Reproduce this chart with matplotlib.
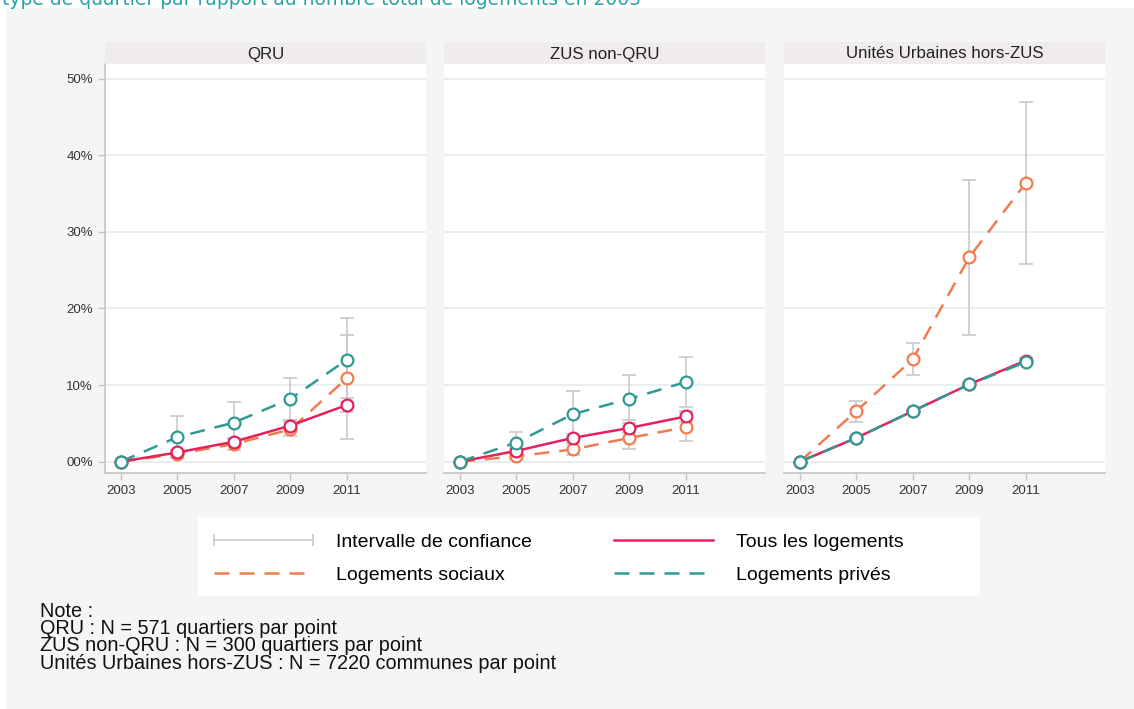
import numpy as np
import matplotlib
matplotlib.use("Agg")
import matplotlib.pyplot as plt
from matplotlib.lines import Line2D
from matplotlib.patches import Rectangle

plt.rcParams['font.family'] = ['Liberation Sans', 'DejaVu Sans']

years = [2003, 2005, 2007, 2009, 2011]
panels = ['QRU', 'ZUS non-QRU', 'Unités Urbaines hors-ZUS']

# valeurs en %
tous = [[0, 1.2, 2.6, 4.7, 7.4],
        [0, 1.4, 3.1, 4.4, 5.9],
        [0, 3.1, 6.6, 10.1, 13.2]]
sociaux = [[0, 1.0, 2.3, 4.2, 10.9],
           [0, 0.7, 1.6, 3.1, 4.5],
           [0, 6.6, 13.4, 26.7, 36.4]]
prives = [[0, 3.2, 5.1, 8.2, 13.3],
          [0, 2.5, 6.2, 8.2, 10.4],
          [0, 3.1, 6.6, 10.1, 13.0]]

# intervalles de confiance (bas, haut)
tous_lo = [[0, 0.9, 2.2, 4.2, 6.5], [0, 1.0, 2.6, 3.8, 5.2], [0, 3.0, 6.4, 9.9, 12.9]]
tous_hi = [[0, 1.5, 3.0, 5.2, 8.3], [0, 1.8, 3.6, 5.0, 6.6], [0, 3.2, 6.8, 10.3, 13.5]]
soc_lo = [[0, 0.6, 1.5, 3.4, 2.9], [0, 0.3, 0.9, 1.6, 2.7], [0, 5.2, 11.3, 16.5, 25.8]]
soc_hi = [[0, 1.4, 3.1, 5.4, 16.5], [0, 1.1, 2.3, 4.6, 6.3], [0, 7.9, 15.5, 36.8, 46.9]]
priv_lo = [[0, 0.5, 2.4, 5.4, 7.8], [0, 1.1, 3.2, 5.4, 7.1], [0, 3.0, 6.4, 9.9, 12.7]]
priv_hi = [[0, 5.9, 7.8, 10.9, 18.8], [0, 3.9, 9.2, 11.3, 13.7], [0, 3.2, 6.8, 10.3, 13.3]]

yticks = [0, 10, 20, 30, 40, 50]
ytick_labels = ['00%', '10%', '20%', '30%', '40%', '50%']

red = '#e3225c'
orange = '#f27b4f'
teal = '#2f9a92'
grey_ci = '#c9c9c9'
bg = '#f4f5f5'
dash = (6, 4)

W, H = 1134, 709
fig = plt.figure(figsize=(W / 100, H / 100), dpi=100)
fig.patch.set_facecolor('white')

def fx(x):
    return x / W

def fy(y):
    return 1 - y / H

# fond gris
fig.patches.append(Rectangle((fx(6), 0), 1 - fx(6), fy(8), transform=fig.transFigure,
                             facecolor=bg, edgecolor='none', zorder=-10))

# titre coupé en haut (comme dans l'original)
fig.text(fx(2), fy(5), 'type de quartier par rapport au nombre total de logements en 2003',
         color='#2aa3a8', fontsize=13.5, family='DejaVu Sans', va='baseline', ha='left')

lefts = [105, 444, 784]
pw = 321
top, bottom = 64, 473
strip_top = 42

def ci(vals, lo, hi):
    v = np.array(vals)
    return [v - np.array(lo), np.array(hi) - v]

for i in range(3):
    ax = fig.add_axes([fx(lefts[i]), fy(bottom), fx(pw), (bottom - top) / H])
    ax.set_facecolor('white')
    ax.set_xlim(2002.44, 2013.8)
    ax.set_ylim(-1.48, 51.9)

    for vals, lo, hi in [(prives[i], priv_lo[i], priv_hi[i]),
                         (sociaux[i], soc_lo[i], soc_hi[i]),
                         (tous[i], tous_lo[i], tous_hi[i])]:
        ax.errorbar(years, vals, yerr=ci(vals, lo, hi), fmt='none', ecolor=grey_ci,
                    elinewidth=1.2, capsize=5, capthick=1.2, zorder=2)

    ax.plot(years, sociaux[i], color=orange, lw=1.8, dashes=dash, marker='o', ms=8.5,
            mfc='white', mec=orange, mew=1.6, zorder=3)
    ax.plot(years, tous[i], color=red, lw=1.8, marker='o', ms=8.5,
            mfc='white', mec=red, mew=1.6, zorder=4)
    ax.plot(years, prives[i], color=teal, lw=1.8, dashes=dash, marker='o', ms=8.5,
            mfc='white', mec=teal, mew=1.6, zorder=5)

    ax.set_yticks(yticks)
    ax.set_xticks(years)
    ax.grid(axis='y', color='#e7eeef', lw=1.4, zorder=0)
    ax.set_axisbelow(True)
    for s in ['top', 'right']:
        ax.spines[s].set_visible(False)
    ax.spines['bottom'].set_color('#c4c4c4')
    ax.spines['bottom'].set_linewidth(1.2)
    ax.tick_params(axis='x', colors='#c4c4c4', labelcolor='#333333', labelsize=9.5, length=5, width=1)
    if i == 0:
        ax.set_yticklabels(ytick_labels)
        ax.spines['left'].set_color('#c4c4c4')
        ax.spines['left'].set_linewidth(1.2)
        ax.tick_params(axis='y', colors='#c4c4c4', labelcolor='#333333', labelsize=9.5, length=5, width=1)
    else:
        ax.spines['left'].set_visible(False)
        ax.tick_params(axis='y', left=False, labelleft=False)

    # bandeau de titre
    fig.patches.append(Rectangle((fx(lefts[i]), fy(top)), fx(pw), (top - strip_top) / H,
                                 transform=fig.transFigure, facecolor='#efeceb', edgecolor='none'))
    fig.text(fx(lefts[i] + pw / 2), fy((top + strip_top) / 2 + 1), panels[i], ha='center', va='center',
             fontsize=12.2, color='#222222')

# légende
fig.patches.append(Rectangle((fx(198), fy(596)), fx(782), 79 / H, transform=fig.transFigure,
                             facecolor='white', edgecolor='none'))
handles = [
    Line2D([], [], color=grey_ci, lw=1.2, marker='|', ms=9, mew=1.2),
    Line2D([], [], color=orange, lw=1.8, dashes=dash),
    Line2D([], [], color=red, lw=1.8),
    Line2D([], [], color=teal, lw=1.8, dashes=dash),
]
labels = ['Intervalle de confiance', 'Logements sociaux', 'Tous les logements', 'Logements privés']
fig.legend(handles, labels, loc='upper left', bbox_to_anchor=(fx(208), fy(533)), ncol=2,
           frameon=False, fontsize=14, handlelength=5.7, handletextpad=0.9, numpoints=2,
           columnspacing=3.9, labelspacing=0.8, borderaxespad=0, borderpad=0)

fig.text(fx(40), fy(602), 'Note :\nQRU : N = 571 quartiers par point\n'
         'ZUS non-QRU : N = 300 quartiers par point\n'
         'Unités Urbaines hors-ZUS : N = 7220 communes par point',
         ha='left', va='top', fontsize=14.3, linespacing=0.88, color='#111111')

fig.savefig('out.png', dpi=100, facecolor=fig.get_facecolor())
